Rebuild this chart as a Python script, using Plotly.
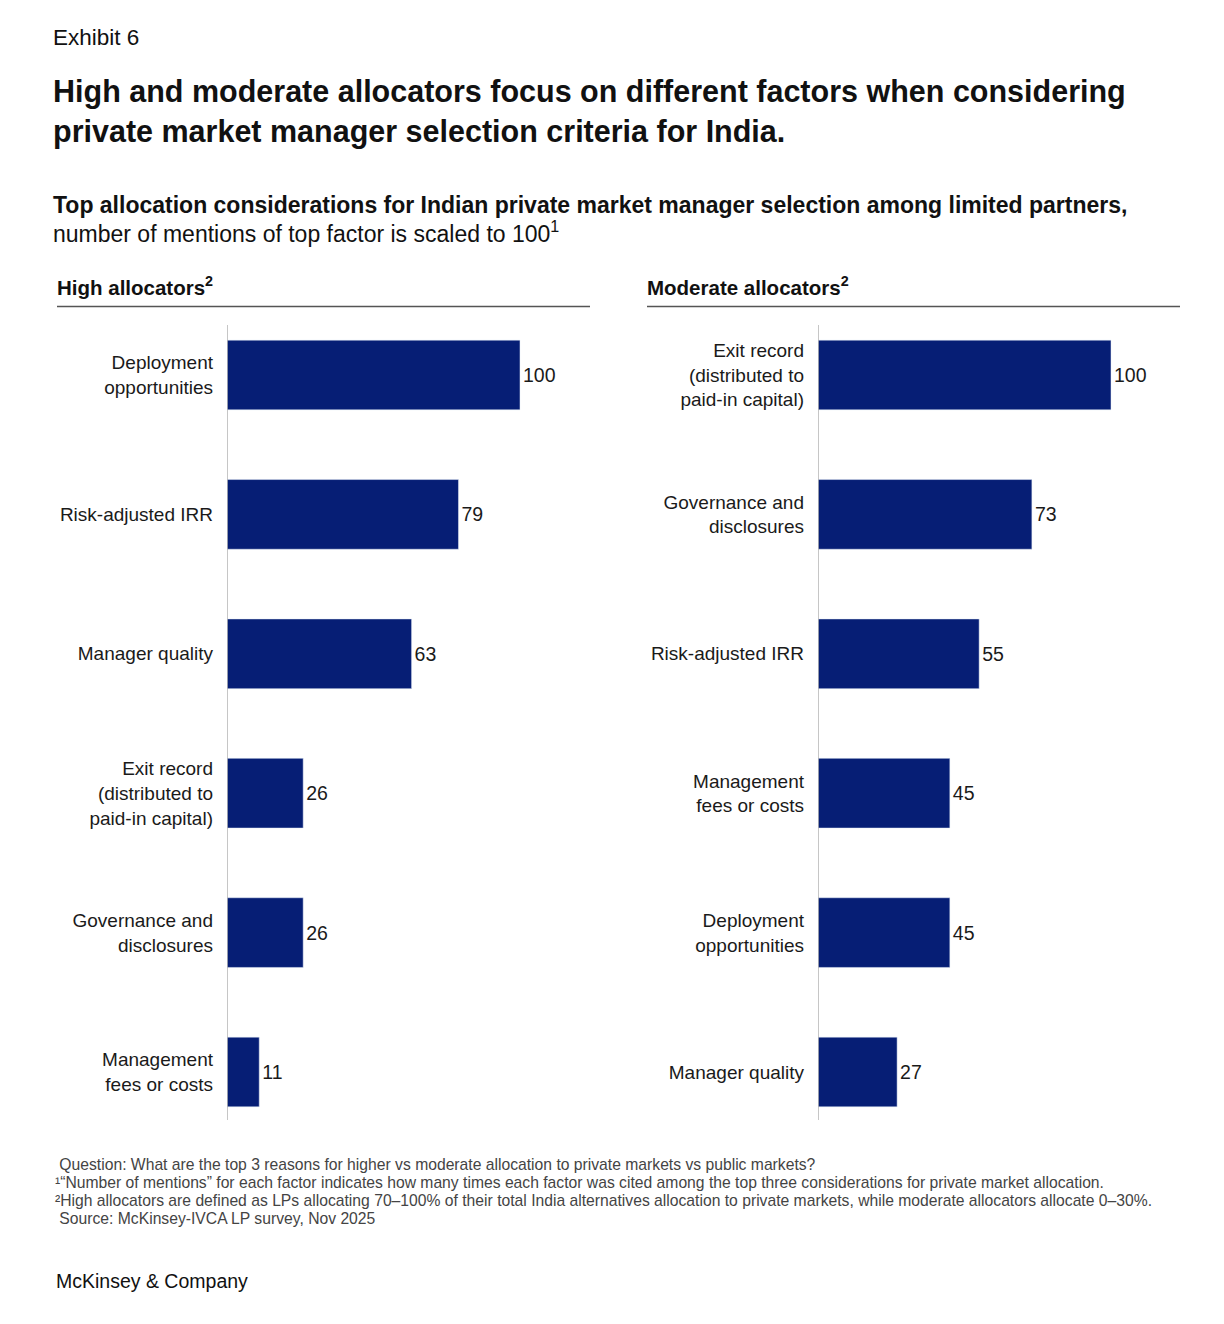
import plotly.graph_objects as go
from plotly.subplots import make_subplots

W, H = 1224, 1324

high_labels = ["Deployment<br>opportunities", "Risk-adjusted IRR", "Manager quality",
               "Exit record<br>(distributed to<br>paid-in capital)", "Governance and<br>disclosures",
               "Management<br>fees or costs"]
high_values = [100, 79, 63, 26, 26, 11]

mod_labels = ["Exit record<br>(distributed to<br>paid-in capital)", "Governance and<br>disclosures",
              "Risk-adjusted IRR", "Management<br>fees or costs", "Deployment<br>opportunities",
              "Manager quality"]
mod_values = [100, 73, 55, 45, 45, 27]

BAR = "#061E75"
FONT = "Liberation Sans"
TXT = "#1a1a1a"

def px(x):
    return x / W

def py(y):
    return 1 - y / H

fig = make_subplots(rows=1, cols=2)

fig.add_trace(go.Bar(y=high_labels, x=high_values, orientation="h", marker_color=BAR,
                     width=0.5, text=high_values, textposition="outside", cliponaxis=False,
                     textfont=dict(size=19.5, color=TXT, family=FONT), hoverinfo="skip"), row=1, col=1)
fig.add_trace(go.Bar(y=mod_labels, x=mod_values, orientation="h", marker_color=BAR,
                     width=0.5, text=mod_values, textposition="outside", cliponaxis=False,
                     textfont=dict(size=19.5, color=TXT, family=FONT), hoverinfo="skip"), row=1, col=2)

scale = 2.93  # px per unit
xr = [0, 363 / scale]
ydom = [py(1141.7), py(305.3)]

fig.update_xaxes(range=xr, showgrid=False, zeroline=False, showticklabels=False, showline=False, fixedrange=True)
fig.update_layout(
    xaxis=dict(domain=[px(227), px(590)]),
    xaxis2=dict(domain=[px(818), px(1181)]),
    yaxis=dict(domain=ydom),
    yaxis2=dict(domain=ydom),
)
fig.update_yaxes(autorange="reversed", showgrid=False, zeroline=False, showline=False, ticks="",
                 ticklabelstandoff=13, tickfont=dict(size=19, color=TXT, family=FONT))

shapes = []
for xref in ["x", "x2"]:
    shapes.append(dict(type="line", xref=xref, yref="paper", x0=0, x1=0, y0=py(1120), y1=py(325),
                       line=dict(color="#b3b3b3", width=1.5)))
for a, b in [(57, 590), (647, 1180)]:
    shapes.append(dict(type="line", xref="paper", yref="paper", x0=px(a), x1=px(b), y0=py(306.5), y1=py(306.5),
                       line=dict(color="#555555", width=1.5)))

ann = []
def add(text, x, y, size, bold=False, color="#111111", yanchor="middle"):
    if bold:
        text = "<b>" + text + "</b>"
    ann.append(dict(text=text, x=px(x), y=py(y), xref="paper", yref="paper", xanchor="left", yanchor=yanchor,
                    showarrow=False, align="left", font=dict(size=size, color=color, family=FONT)))

add("Exhibit 6", 51, 37, 22.5)
add("High and moderate allocators focus on different factors when considering", 51, 92, 30.5, bold=True)
add("private market manager selection criteria for India.", 51, 131, 30.5, bold=True)
add("Top allocation considerations for Indian private market manager selection among limited partners,", 51, 205, 23, bold=True)
add("number of mentions of top factor is scaled to 100<sup>1</sup>", 51, 232, 23)
add("High allocators<sup>2</sup>", 55, 286, 20.5, bold=True)
add("Moderate allocators<sup>2</sup>", 645, 286, 20.5, bold=True)

foot = [
    " Question: What are the top 3 reasons for higher vs moderate allocation to private markets vs public markets?",
    "¹\u201cNumber of mentions\u201d for each factor indicates how many times each factor was cited among the top three considerations for private market allocation.",
    "²High allocators are defined as LPs allocating 70\u2013100% of their total India alternatives allocation to private markets, while moderate allocators allocate 0\u201330%.",
    " Source: McKinsey-IVCA LP survey, Nov 2025",
]
for i, t in enumerate(foot):
    add(t, 53, 1164 + 18 * i, 15.7, color="#444444")

add("McKinsey &amp; Company", 54, 1281, 19.5, color="#111111")

fig.update_layout(
    width=W, height=H, margin=dict(l=0, r=0, t=0, b=0),
    paper_bgcolor="white", plot_bgcolor="white", showlegend=False,
    shapes=shapes, annotations=ann, bargap=0.5,
    font=dict(family=FONT),
)

fig.write_html("out.html")
